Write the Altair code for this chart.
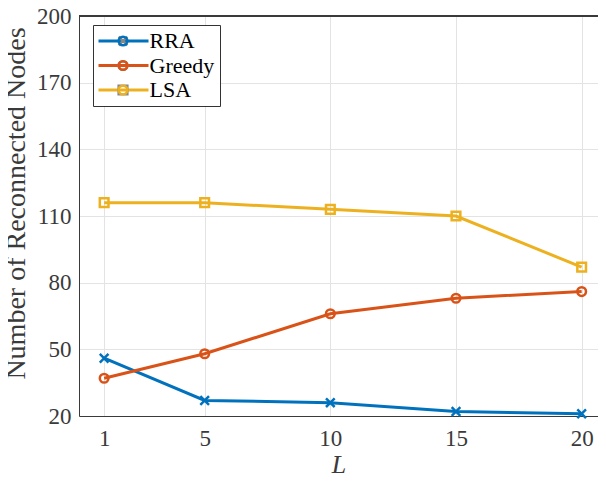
import altair as alt
import pandas as pd

x_vals = [1, 5, 10, 15, 20]
series_names = ["RRA", "Greedy", "LSA"]
rra = [46, 27, 26, 22, 21]
greedy = [37, 48, 66, 73, 76]
lsa = [116, 116, 113, 110, 87]
colors = ["#0072BD", "#D95319", "#EDB120"]
x_ticks = [1, 5, 10, 15, 20]
y_ticks = [20, 50, 80, 110, 140, 170, 200]

rows = []
for name, vals in zip(series_names, [rra, greedy, lsa]):
    for xv, yv in zip(x_vals, vals):
        rows.append({"L": xv, "value": yv, "series": name, "series2": name})
df = pd.DataFrame(rows)

FONT = "Liberation Serif"
TXT = "#3a3a3a"
shape_range = ["M-1,-1L1,1M-1,1L1,-1", "circle", "square"]

xenc = alt.X("L:Q", scale=alt.Scale(domain=[0, 20.65], nice=False, zero=False),
             axis=alt.Axis(values=x_ticks, title="L", titleFontStyle="italic",
                           titleFont=FONT, labelFont=FONT,
                           titleFontSize=26, titleFontWeight="normal",
                           labelFontSize=23, labelPadding=11, titlePadding=1,
                           labelColor=TXT, titleColor=TXT,
                           ticks=False, grid=True, labelFlush=False))
yenc = alt.Y("value:Q", scale=alt.Scale(domain=[20, 200], nice=False, zero=False),
             axis=alt.Axis(values=y_ticks, title="Number of Reconnected Nodes",
                           titleFont=FONT, labelFont=FONT,
                           titleFontSize=28, titleFontWeight="normal",
                           labelFontSize=23, labelPadding=8, titlePadding=6,
                           titleY=187,
                           labelColor=TXT, titleColor=TXT,
                           ticks=False, grid=True, labelFlush=False))

lines = alt.Chart(df).mark_line(strokeWidth=3).encode(
    x=xenc, y=yenc,
    color=alt.Color("series:N", sort=series_names,
                    scale=alt.Scale(range=colors),
                    legend=alt.Legend(title=None, orient="none", legendX=14, legendY=9,
                                      symbolType="M-5,0L5,0", symbolSize=100,
                                      symbolOffset=14.5,
                                      symbolStrokeWidth=3, labelFontSize=22,
                                      labelFont=FONT, labelColor="#000000",
                                      padding=5, rowPadding=2.5, labelOffset=15,
                                      fillColor="#ffffff", strokeColor="#333333")),
)

shape_legend = alt.Legend(title=None, orient="none", legendX=28, legendY=9,
                          symbolSize=75, symbolStrokeWidth=2.5,
                          labelFontSize=22, labelFont=FONT,
                          labelOpacity=0, padding=5, rowPadding=2.5,
                          labelOffset=2)

points = alt.Chart(df).mark_point(filled=False, size=75, strokeWidth=2.5, opacity=1).encode(
    x=xenc, y=yenc,
    stroke=alt.Stroke("series2:N", sort=series_names,
                      scale=alt.Scale(range=colors), legend=shape_legend),
    shape=alt.Shape("series2:N", sort=series_names,
                    scale=alt.Scale(range=shape_range), legend=shape_legend),
)

top_line = alt.Chart(df).mark_rule(color="#3a3a3a", strokeWidth=1).encode(
    y=alt.datum(200)
)

chart = alt.layer(lines, points, top_line).properties(
    width=519, height=400,
    autosize=alt.AutoSizeParams(type="none"),
    padding={"left": 71, "top": 8, "right": 0, "bottom": 58},
).configure(background="white", font=FONT).configure_axis(
    labelFont=FONT, titleFont=FONT,
    domainColor="#3a3a3a", domainWidth=1, gridColor="#e3e3e3", gridWidth=1,
).configure_view(strokeWidth=0)

chart.save("out.html", embed_options={"renderer": "svg", "actions": False})
